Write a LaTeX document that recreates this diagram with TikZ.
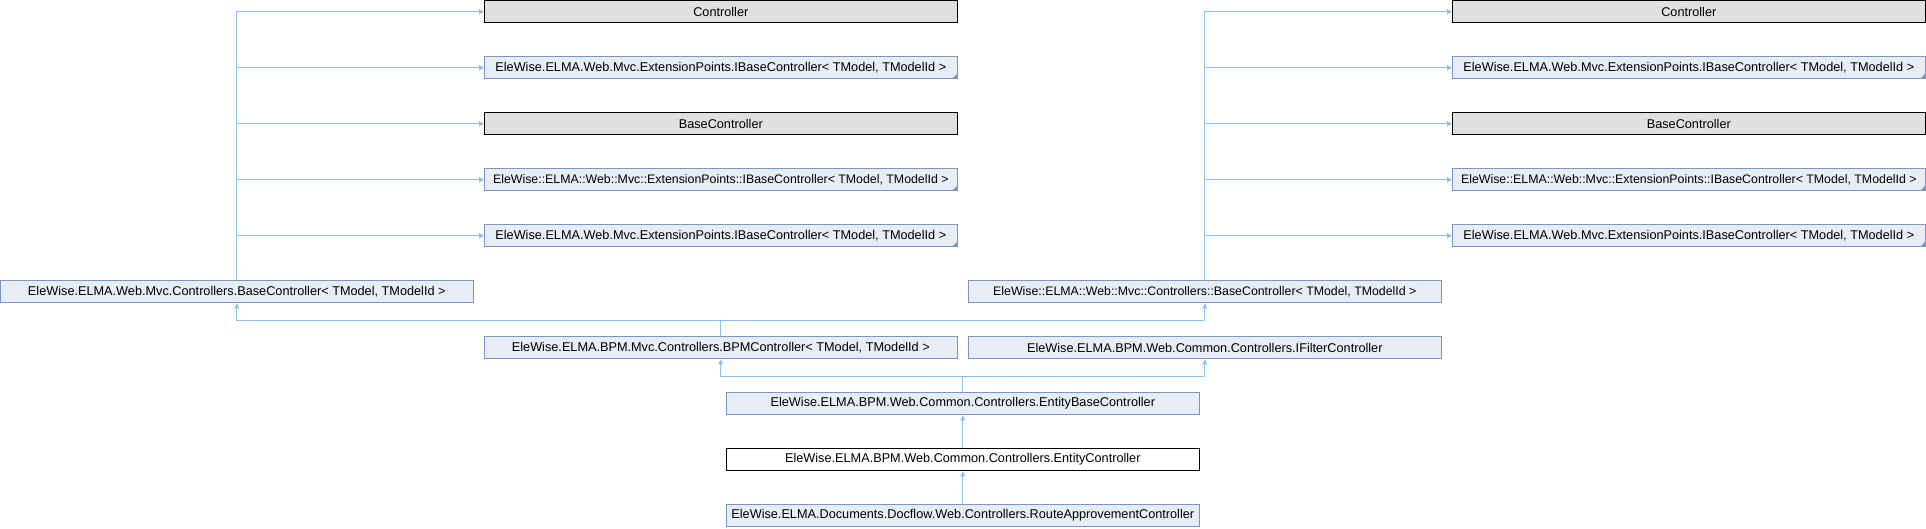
\documentclass[tikz,border=0pt]{standalone}
\usepackage{fontspec}
\setmainfont{Liberation Sans}
\usetikzlibrary{arrows.meta}
\definecolor{edgecol}{RGB}{140,195,235}
\definecolor{bluefill}{RGB}{232,236,245}
\definecolor{blueline}{RGB}{124,149,198}
\definecolor{grayfill}{RGB}{224,224,224}
\tikzset{
  cls/.style={draw, line width=1pt, minimum width=472.5pt, minimum height=22.3pt,
    inner sep=0pt, font=\fontsize{12.7pt}{14pt}\selectfont, text=black},
  narrowtext/.style={font=\fontsize{12.35pt}{14pt}\selectfont},
  bluebox/.style={cls, fill=bluefill, draw=blueline},
  graybox/.style={cls, fill=grayfill, draw=black},
  whitebox/.style={cls, fill=white, draw=black},
  markbox/.style={bluebox, path picture={\fill[blueline] (path picture bounding box.south east) -- ++(-5pt,0pt) -- ++(5pt,5pt) -- cycle;}},
  inh/.style={draw=edgecol, line width=1pt, -{Triangle[length=5pt,width=5pt]}}
}
\begin{document}
\begin{tikzpicture}[x=1pt,y=-1pt]
\useasboundingbox (0,0) rectangle (1926,528);
% left column parents
\node[graybox] (lc1) at (720.8,11.7) {Controller};
\node[markbox] (lc2) at (720.8,67.7) {EleWise.ELMA.Web.Mvc.ExtensionPoints.IBaseController< TModel, TModelId >};
\node[graybox] (lc3) at (720.8,123.7) {BaseController};
\node[markbox, narrowtext] (lc4) at (720.8,179.7) {EleWise::ELMA::Web::Mvc::ExtensionPoints::IBaseController< TModel, TModelId >};
\node[markbox] (lc5) at (720.8,235.7) {EleWise.ELMA.Web.Mvc.ExtensionPoints.IBaseController< TModel, TModelId >};
% right column parents
\node[graybox] (rc1) at (1688.8,11.7) {Controller};
\node[markbox] (rc2) at (1688.8,67.7) {EleWise.ELMA.Web.Mvc.ExtensionPoints.IBaseController< TModel, TModelId >};
\node[graybox] (rc3) at (1688.8,123.7) {BaseController};
\node[markbox, narrowtext] (rc4) at (1688.8,179.7) {EleWise::ELMA::Web::Mvc::ExtensionPoints::IBaseController< TModel, TModelId >};
\node[markbox] (rc5) at (1688.8,235.7) {EleWise.ELMA.Web.Mvc.ExtensionPoints.IBaseController< TModel, TModelId >};
% base controllers
\node[bluebox] (lbase) at (236.8,291.7) {EleWise.ELMA.Web.Mvc.Controllers.BaseController< TModel, TModelId >};
\node[bluebox, narrowtext] (rbase) at (1204.8,291.7) {EleWise::ELMA::Web::Mvc::Controllers::BaseController< TModel, TModelId >};
% lower chain
\node[bluebox] (bpm) at (720.8,347.7) {EleWise.ELMA.BPM.Mvc.Controllers.BPMController< TModel, TModelId >};
\node[bluebox] (filt) at (1204.8,347.7) {EleWise.ELMA.BPM.Web.Common.Controllers.IFilterController};
\node[bluebox] (ebase) at (962.8,403.7) {EleWise.ELMA.BPM.Web.Common.Controllers.EntityBaseController};
\node[whitebox] (ent) at (962.8,459.7) {EleWise.ELMA.BPM.Web.Common.Controllers.EntityController};
\node[bluebox] (route) at (962.8,515.7) {EleWise.ELMA.Documents.Docflow.Web.Controllers.RouteApprovementController};
% connectors
\foreach \n in {lc1,lc2,lc3,lc4,lc5} \draw[inh] (lbase.north) |- (\n.west);
\foreach \n in {rc1,rc2,rc3,rc4,rc5} \draw[inh] (rbase.north) |- (\n.west);
\draw[inh] (bpm.north) -- ++(0,-15.5) -| (lbase.south);
\draw[inh] (bpm.north) -- ++(0,-15.5) -| (rbase.south);
\draw[inh] (ebase.north) -- ++(0,-15.5) -| (bpm.south);
\draw[inh] (ebase.north) -- ++(0,-15.5) -| (filt.south);
\draw[inh] (ent.north) -- (ebase.south);
\draw[inh] (route.north) -- (ent.south);
\end{tikzpicture}
\end{document}
